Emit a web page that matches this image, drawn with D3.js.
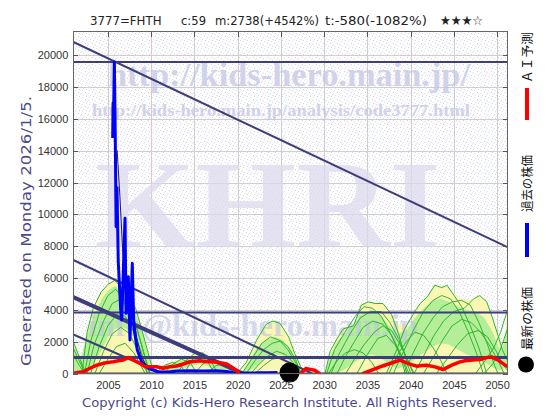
<!DOCTYPE html>
<html><head><meta charset="utf-8">
<script src="https://cdn.jsdelivr.net/npm/d3@7"></script>
<style>body{margin:0;background:#fff}svg{display:block}</style>
</head><body>
<svg id="c" width="560" height="420"></svg>
<script>
// ---------- data ----------
const yearDomain = [2001, 2051.2];
const valueMax = 21500;
const xTicks = [2005, 2010, 2015, 2020, 2025, 2030, 2035, 2040, 2045, 2050];
const yTicks = [0, 2000, 4000, 6000, 8000, 10000, 12000, 14000, 16000, 18000, 20000];
const titleParts = ["3777=FHTH", "c:59", "m:2738(+4542%)", "t:-580(-1082%)", "★★★☆"];
const legendLabels = ["ＡＩ予測", "過去の株価", "最新の株価"];
const generatedText = "Generated on Monday 2026/1/5.";
const copyrightText = "Copyright (c) Kids-Hero Research Institute. All Rights Reserved.";

const pastPrice = [[2005.55,14800],[2005.6,17000],[2005.66,16500],[2005.75,19580],[2005.85,15000],[2005.95,9230],[2006.05,11700],[2006.2,7000],[2006.48,3990],[2006.6,3360],[2006.98,9760],[2007.1,3780],[2007.36,6080],[2007.55,2110],[2007.82,6930],[2008.0,2940],[2008.4,1480],[2008.9,740],[2009.67,330],[2010.83,110],[2012,100],[2013,160],[2014.5,170],[2016,160],[2017.5,170],[2018.7,130],[2019.5,50],[2021,30],[2022.5,40],[2023.5,50],[2024.6,59]];
const pastAverage = [[2006.07,14030],[2006.39,11120],[2006.7,7830],[2006.96,6070],[2007.34,5860],[2007.92,3980],[2008.31,2300],[2008.89,1040],[2009.65,314],[2010.77,100],[2012,100],[2014,150],[2016,160],[2018,130],[2019.5,60]];
const latestPrice = [2026.0, 59];

const aiForecast1 = [[2001,0],[2001.5,60],[2002.16,110],[2002.93,330],[2003.6,500],[2004.47,640],[2005.05,700],[2005.62,740],[2006.2,800],[2006.78,850],[2007.36,1000],[2007.94,850],[2008.71,640],[2009.28,430],[2009.86,430],[2010.64,420],[2011.4,330],[2012.17,430],[2012.95,470],[2013.72,600],[2014.49,740],[2015.1,770],[2015.65,800],[2016.2,760],[2016.8,740],[2017.4,720],[2017.96,680],[2018.73,600],[2019.5,330],[2020.08,110]];
const aiForecast2 = [[2027.45,100],[2027.9,310],[2028.4,260],[2028.9,200],[2029.45,0]];
const aiForecast3 = [[2034.53,0],[2035.5,210],[2036.46,415],[2037.0,520],[2037.62,630],[2038.2,740],[2038.77,836],[2039.54,670],[2040.1,560],[2040.7,460],[2041.3,500],[2041.86,520],[2042.82,415],[2043.3,330],[2043.78,250],[2044.3,400],[2044.75,520],[2045.71,730],[2046.3,800],[2046.87,836],[2047.5,860],[2048.02,880],[2048.8,1000],[2049.37,1043],[2050.13,836],[2050.6,650],[2051.1,460]];

const levelValues = [19580, 3830, 1005, 0];
const levelWidths = [2, 2, 3, 2];
const trendA = [[2001,20840],[2051.2,7950]];
const trendB = [[2001,7140],[2028.6,0]];
const trendC = [[2001,4800],[2020.6,0]];
const trendD = [[2001,2450],[2011.3,0]];

// ensemble envelopes (yellow = outer, green = inner band)
const outer1 = [[2001,2000],[2001.5,1350],[2001.8,850],[2002.2,1500],[2002.6,2650],[2003.3,4100],[2004.2,5100],[2005,5600],[2005.8,5850],[2006.4,5500],[2007.4,4800],[2008.2,4100],[2008.8,3050],[2009.4,1850],[2010.1,400],[2010.5,0]];
const band1 = [[2001,0,1800],[2001.5,0,1200],[2001.8,0,800],[2002.3,0,1800],[2002.8,300,2800],[2003.5,800,3800],[2004.3,1500,4700],[2005,2300,5200],[2005.8,2800,5500],[2006.5,2900,5200],[2007.3,2800,4600],[2008.1,2300,3900],[2008.8,1300,2900],[2009.4,400,1700],[2010,0,300],[2010.3,0,0]];
const outer2 = [[2010.6,0],[2011.5,550],[2012.5,750],[2013.4,950],[2014.3,1050],[2015.2,1270],[2016,1320],[2016.8,950],[2017.6,850],[2018.5,650],[2019.4,350],[2020.1,0]];
const band2 = [[2011,0,200],[2012.5,100,600],[2013.5,300,800],[2014.5,450,950],[2015.5,600,1150],[2016.4,500,1050],[2017.2,300,700],[2018.3,150,500],[2019.3,0,250],[2020,0,0]];
const outer3 = [[2019.9,0],[2021,700],[2022.2,2100],[2023.3,3100],[2024.1,3300],[2024.9,3150],[2025.9,2300],[2026.6,1250],[2027.4,300],[2027.6,0]];
const band3 = [[2020.4,0,0],[2021.2,100,600],[2022.2,500,1600],[2023.3,1000,2100],[2024.3,1200,2300],[2025.2,1150,2100],[2026,800,1600],[2026.7,300,900],[2027.3,0,150]];
const outer4 = [[2030.1,0],[2030.7,1400],[2031.5,2200],[2032.2,2850],[2033.4,3050],[2034.3,4300],[2035.1,4500],[2035.9,4400],[2036.8,4400],[2037.8,3770],[2038.6,3050],[2039.15,3150],[2039.9,2850],[2040.5,3980],[2041.1,4400],[2041.9,4810],[2042.8,5550],[2043.6,5440],[2044.2,5550],[2044.9,5030],[2045.9,4710],[2046.9,4600],[2048,4920],[2048.8,4500],[2049.4,3560],[2050.1,2410],[2050.5,1570],[2050.8,2200],[2051.2,4200]];
const band4 = [[2030.1,0,0],[2030.7,0,1100],[2031.5,0,2000],[2032.5,300,2600],[2033.5,700,3200],[2034.5,1000,3800],[2035.5,1200,4000],[2036.5,1000,3700],[2037.5,600,3000],[2038.5,300,2500],[2039.5,500,2700],[2040.5,900,3500],[2041.5,1300,4100],[2042.5,1700,4600],[2043.5,1900,4700],[2044.5,1800,4500],[2045.5,1500,4200],[2046.5,1200,4000],[2047.5,1000,3900],[2048.5,700,3500],[2049.5,400,2600],[2050.3,200,1500],[2050.7,300,1700],[2051.2,600,3200]];

// ensemble forecast lines
const ensemble1 = [
 [[2001,2000],[2001.5,1300],[2002,600],[2002.5,0]],
 [[2001,1600],[2001.6,900],[2002.2,200],[2002.6,0]],
 [[2001,1200],[2001.7,500],[2002.3,0]],
 [[2002,0],[2002.6,2600],[2003.3,4100],[2004.2,5100],[2005,5600],[2005.8,5850],[2006.4,5500],[2007.4,4800],[2008.2,4100],[2008.8,3000],[2009.4,1800],[2010.1,400],[2010.5,0]],
 [[2002.3,0],[2003,2000],[2004,3800],[2005,4900],[2005.9,5300],[2006.8,4700],[2007.8,3800],[2008.6,2400],[2009.3,1000],[2009.9,0]],
 [[2002.6,0],[2003.4,1800],[2004.5,3300],[2005.5,4400],[2006.5,4700],[2007.5,4000],[2008.4,2700],[2009.2,1200],[2009.8,0]],
 [[2003,0],[2004,1700],[2005,3000],[2006,3700],[2007,3600],[2008,2600],[2008.9,1300],[2009.6,0]],
 [[2003.5,0],[2004.5,1400],[2005.5,2500],[2006.5,2900],[2007.5,2500],[2008.4,1500],[2009.2,400],[2009.6,0]],
 [[2004,0],[2005,900],[2006,1700],[2007,1900],[2008,1300],[2008.8,500],[2009.3,0]]
];
const ensemble2 = [
 [[2010.5,0],[2011.5,500],[2012.5,700],[2013.5,400],[2014.2,0]],
 [[2011.5,0],[2012.5,600],[2013.5,900],[2014.5,700],[2015.3,0]],
 [[2013,0],[2014,800],[2015,1250],[2016,1300],[2016.8,900],[2017.5,200],[2018,0]],
 [[2013.8,0],[2014.8,900],[2015.8,1100],[2016.6,700],[2017.3,0]],
 [[2015,0],[2016,600],[2017,900],[2018,700],[2019,300],[2019.6,0]],
 [[2016.5,0],[2017.5,500],[2018.5,600],[2019.5,300],[2020.2,0]]
];
const ensemble3 = [
 [[2019.9,0],[2021,700],[2022.2,2100],[2023.3,3100],[2024.1,3300],[2024.9,3150],[2025.9,2300],[2026.6,1250],[2027.4,300],[2027.6,0]],
 [[2020.5,0],[2021.6,900],[2022.8,1900],[2023.8,2300],[2024.8,2100],[2025.8,1500],[2026.8,600],[2027.4,0]],
 [[2021,0],[2022,800],[2023,1500],[2024,1900],[2025,2050],[2025.8,1700],[2026.7,900],[2027.3,0]],
 [[2021.5,0],[2022.5,600],[2023.5,1100],[2024.5,1400],[2025.5,1200],[2026.4,700],[2027,0]],
 [[2022,0],[2023,500],[2024,900],[2025,1000],[2026,600],[2026.8,0]]
];
const ensemble4 = [
 [[2030.1,0],[2030.7,1400],[2031.5,2200],[2032.2,2800],[2033.4,3000],[2034.3,4300],[2035.1,4500],[2035.9,4400],[2036.8,4400],[2037.8,3700],[2038.6,2500],[2039.3,1200],[2040,0]],
 [[2030.3,0],[2031.2,1500],[2032.4,2600],[2033.6,3600],[2034.6,4200],[2035.6,4100],[2036.6,3600],[2037.6,2600],[2038.6,1400],[2039.4,0]],
 [[2030.8,0],[2031.8,1300],[2033,2500],[2034.2,3500],[2035.4,3900],[2036.6,3900],[2037.6,3200],[2038.6,2200],[2039.6,900],[2040.3,0]],
 [[2031.5,0],[2032.5,1100],[2033.5,2000],[2034.5,2900],[2035.6,3300],[2036.8,3100],[2037.8,2400],[2038.8,1300],[2039.6,0]],
 [[2032.5,0],[2033.5,900],[2034.6,1800],[2035.8,2600],[2036.8,3000],[2037.8,2700],[2038.8,1800],[2039.8,700],[2040.4,0]],
 [[2030.5,0],[2031.5,800],[2032.5,1300],[2033.5,1500],[2034.5,1300],[2035.5,700],[2036.3,0]],
 [[2033.8,0],[2035,1200],[2036.2,2200],[2037.2,2400],[2038.2,1800],[2039.2,800],[2039.8,0]],
 [[2037.2,0],[2038.4,1500],[2039.3,2800],[2040.5,3900],[2041.1,4400],[2041.9,4800],[2042.8,5550],[2043.6,5400],[2044.2,5550],[2044.9,5000],[2045.9,4200],[2046.9,3000],[2047.9,1600],[2048.8,0]],
 [[2038,0],[2039.2,1400],[2040.4,2800],[2041.5,3900],[2042.6,4600],[2043.6,4900],[2044.6,4700],[2045.6,3900],[2046.6,2700],[2047.6,1300],[2048.4,0]],
 [[2039.2,0],[2040.3,1300],[2041.4,2500],[2042.6,3500],[2043.7,4200],[2044.8,4500],[2045.9,4600],[2046.9,4300],[2047.9,3200],[2048.9,1800],[2049.7,500],[2050.1,0]],
 [[2040.4,0],[2041.5,1100],[2042.6,2300],[2043.8,3300],[2045,3900],[2046.2,4100],[2047.3,4700],[2048,4900],[2048.8,4500],[2049.4,3600],[2050.1,2400],[2050.6,1500],[2051.2,800]],
 [[2041.5,0],[2042.6,1000],[2043.7,2100],[2044.8,3000],[2045.9,3400],[2047,3200],[2048.1,2600],[2049.2,1700],[2050.2,700],[2050.8,0]],
 [[2043,0],[2044.2,900],[2045.4,1800],[2046.6,2500],[2047.8,2700],[2048.9,2300],[2049.9,1400],[2050.6,600],[2051.2,200]],
 [[2047.5,0],[2048.6,800],[2049.6,1600],[2050.4,2600],[2051.2,4000]],
 [[2048.5,0],[2049.5,600],[2050.3,1400],[2051.2,2800]],
 [[2037.5,0],[2038.5,1200],[2039.5,2000],[2040.5,2600],[2041.5,2400],[2042.5,1700],[2043.5,800],[2044.2,0]]
];

// ---------- drawing ----------
const svg = d3.select("#c");
const M = {l: 73.3, r: 507.5, t: 31.5, b: 373.5};
const x = d3.scaleLinear().domain(yearDomain).range([M.l, M.r]);
const y = d3.scaleLinear().domain([0, valueMax]).range([M.b, M.t]);
const navy = "#3d3d7c";

const defs = svg.append("defs");
const pat = defs.append("pattern").attr("id","speck").attr("width",7).attr("height",7).attr("patternUnits","userSpaceOnUse");
pat.append("rect").attr("width",7).attr("height",7).attr("fill","#fdfdfd");
[[1,1,"#f0c4e4"],[4,2,"#c4ecf6"],[2,5,"#d6d6d6"],[6,4,"#f4d6ee"],[5,6,"#cce6f6"],[3,3,"#ececec"]].forEach(p=>{
  pat.append("rect").attr("x",p[0]).attr("y",p[1]).attr("width",1).attr("height",1).attr("fill",p[2]);
});
defs.append("clipPath").attr("id","plot").append("rect")
  .attr("x",M.l).attr("y",M.t).attr("width",M.r-M.l).attr("height",M.b-M.t);

svg.append("rect").attr("x",M.l).attr("y",M.t).attr("width",M.r-M.l).attr("height",M.b-M.t).attr("fill","url(#speck)");

// grid
const grid = svg.append("g").attr("shape-rendering","crispEdges");
grid.append("g").attr("transform",`translate(0,${M.b})`)
  .call(d3.axisBottom(x).tickValues(xTicks).tickSize(-(M.b-M.t)).tickFormat(""))
  .call(g=>{g.select(".domain").remove(); g.selectAll("line").attr("stroke","#cfcfcf");});
grid.append("g").attr("transform",`translate(${M.l},0)`)
  .call(d3.axisLeft(y).tickValues(yTicks).tickSize(-(M.r-M.l)).tickFormat(""))
  .call(g=>{g.select(".domain").remove(); g.selectAll("line").attr("stroke","#cfcfcf");});

const plot = svg.append("g").attr("clip-path","url(#plot)");

const line = d3.line().x(d=>x(d[0])).y(d=>y(d[1]));
const area = d3.area().x(d=>x(d[0])).y0(y(0)).y1(d=>y(d[1]));
const bandArea = d3.area().x(d=>x(d[0])).y0(d=>y(d[1])).y1(d=>y(d[2]));

[outer1,outer2,outer3,outer4].forEach(o=>plot.append("path").attr("d",area(o)).attr("fill","#faf6b4"));
[band1,band2,band3,band4].forEach(b=>plot.append("path").attr("d",bandArea(b)).attr("fill","#b4ee98"));

// watermarks
const wm = plot.append("g").attr("font-family","'Liberation Serif', serif").attr("font-weight","bold");
wm.append("text").attr("x",95).attr("y",247).attr("font-size",124).attr("textLength",345).attr("lengthAdjust","spacingAndGlyphs")
  .attr("fill","#ddd8ec").attr("opacity",0.75).text("KHRI");
wm.append("text").attr("x",108).attr("y",86).attr("font-size",34).attr("textLength",362).attr("lengthAdjust","spacingAndGlyphs")
  .attr("fill","#c4c6e6").attr("opacity",0.75).text("http://kids-hero.main.jp/");
wm.append("text").attr("x",92).attr("y",116).attr("font-size",17).attr("textLength",378).attr("lengthAdjust","spacingAndGlyphs")
  .attr("fill","#c4c6e6").attr("opacity",0.75).text("http://kids-hero.main.jp/analysis/code3777.html");
wm.append("text").attr("x",88).attr("y",336).attr("font-size",32).attr("textLength",330).attr("lengthAdjust","spacingAndGlyphs")
  .attr("fill","#bfc2e2").attr("opacity",0.6).text("info@kids-hero.main.jp");

// green ensemble lines
[ensemble1,ensemble2,ensemble3,ensemble4].forEach(ens=>{
  ens.forEach(l=>plot.append("path").attr("d",line(l)).attr("fill","none").attr("stroke","#2fb52f").attr("stroke-width",1));
});

// trend lines
[[trendA,2],[trendB,2],[trendC,4],[trendD,2]].forEach(t=>{
  plot.append("path").attr("d",line(t[0])).attr("fill","none").attr("stroke",navy).attr("stroke-width",t[1]);
});
// level lines
levelValues.forEach((v,i)=>{
  plot.append("line").attr("x1",M.l).attr("x2",M.r).attr("y1",y(v)).attr("y2",y(v))
    .attr("stroke",navy).attr("stroke-width",levelWidths[i]);
});

// past average (thin black), past price (blue), AI (red)
plot.append("path").attr("d",line(pastAverage)).attr("fill","none").attr("stroke","#222").attr("stroke-width",1);
plot.append("path").attr("d",line(pastPrice)).attr("fill","none").attr("stroke","#0000ff").attr("stroke-width",3).attr("stroke-linejoin","round");
[aiForecast1,aiForecast2,aiForecast3].forEach(a=>{
  plot.append("path").attr("d",line(a)).attr("fill","none").attr("stroke","#ff0000").attr("stroke-width",3.5).attr("stroke-linejoin","round").attr("stroke-linecap","round");
});

// latest price marker
svg.append("circle").attr("cx",x(latestPrice[0])).attr("cy",y(latestPrice[1])).attr("r",10).attr("fill","#000");

// frame & axes
svg.append("rect").attr("x",M.l).attr("y",M.t).attr("width",M.r-M.l).attr("height",M.b-M.t)
  .attr("fill","none").attr("stroke","#666").attr("shape-rendering","crispEdges");
const axFont = g=>{g.select(".domain").remove(); g.selectAll("line").attr("stroke","#555");
  g.selectAll("text").attr("font-family","'Liberation Sans', Arial, sans-serif").attr("font-size",11).attr("fill","#333");};
svg.append("g").attr("transform",`translate(${M.l},0)`).attr("shape-rendering","crispEdges")
  .call(d3.axisLeft(y).tickValues(yTicks).tickSizeInner(-5).tickSizeOuter(0).tickPadding(5).tickFormat(d3.format("d"))).call(axFont);
svg.append("g").attr("transform",`translate(${M.r},0)`).attr("shape-rendering","crispEdges")
  .call(d3.axisRight(y).tickValues(yTicks).tickSizeInner(-5).tickSizeOuter(0).tickFormat("")).call(axFont);
svg.append("g").attr("transform",`translate(0,${M.t})`).attr("shape-rendering","crispEdges")
  .call(d3.axisTop(x).tickValues(xTicks).tickSizeInner(-5).tickSizeOuter(0).tickFormat("")).call(axFont);
svg.append("g").attr("transform",`translate(0,${M.b})`).attr("shape-rendering","crispEdges")
  .call(d3.axisBottom(x).tickValues(xTicks).tickSizeInner(0).tickSizeOuter(0).tickPadding(8).tickFormat(d3.format("d"))).call(axFont);

// title
const titleX = [90, 181, 215, 325, 440];
const titleLen = [71.5, 25, 104, 102, 43];
titleParts.forEach((t,i)=>{
  svg.append("text").attr("x",titleX[i]).attr("y",25).attr("font-family","'DejaVu Sans', sans-serif").attr("font-size",13)
    .attr("textLength",titleLen[i]).attr("lengthAdjust","spacingAndGlyphs").attr("fill","#222").text(t);
});

// left rotated label
svg.append("text").attr("transform","translate(31,366) rotate(-90)")
  .attr("font-family","'DejaVu Sans', sans-serif").attr("font-size",14).attr("fill","#4a4a8c")
  .attr("textLength",270).attr("lengthAdjust","spacingAndGlyphs").text(generatedText);

// copyright
svg.append("text").attr("x",82).attr("y",407).attr("font-family","'DejaVu Sans', sans-serif").attr("font-size",12)
  .attr("fill","#4a4a8c").attr("textLength",415).attr("lengthAdjust","spacingAndGlyphs").text(copyrightText);

// legend
const legStart = [83, 212, 350];
const legLen = [51, 57, 63];
legendLabels.forEach((t,i)=>{
  svg.append("text").attr("transform",`translate(532,${legStart[i]}) rotate(-90)`)
    .attr("font-family","'Noto Sans CJK JP', sans-serif").attr("font-size",12.5).attr("fill","#111")
    .attr("textLength",legLen[i]).attr("lengthAdjust","spacingAndGlyphs").text(t);
});
svg.append("rect").attr("x",525).attr("y",88).attr("width",4).attr("height",32).attr("fill","#ff0000");
svg.append("rect").attr("x",525).attr("y",223).attr("width",4).attr("height",34).attr("fill","#0000ff");
svg.append("circle").attr("cx",526).attr("cy",364.5).attr("r",8).attr("fill","#000");
</script>
</body></html>
